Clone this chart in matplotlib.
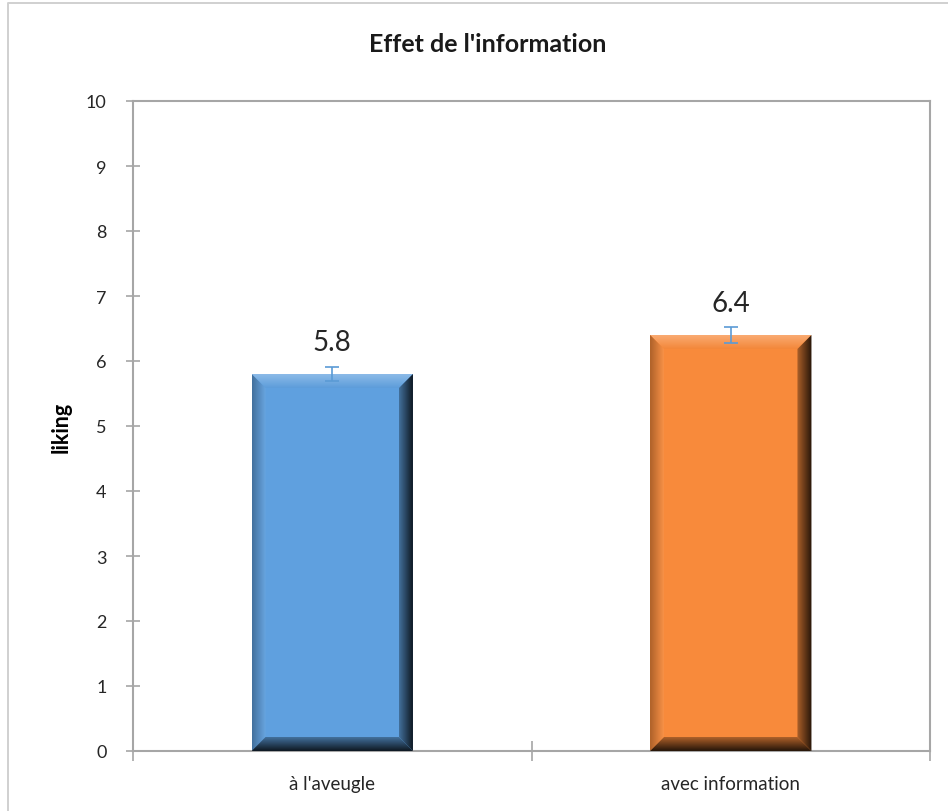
import numpy as np
import matplotlib
matplotlib.use('Agg')
import matplotlib.pyplot as plt
from matplotlib.patches import Polygon
from matplotlib.lines import Line2D

# liking scores per condition
conditions = ["à l'aveugle", "avec information"]
liking = [5.8, 6.4]
liking_err = [0.11, 0.12]
bar_colors = ['#5fa0df', '#f88a3b']

plt.rcParams['font.family'] = ['Lato', 'DejaVu Sans']

fig = plt.figure(figsize=(9.48, 8.12), dpi=100)
ax = fig.add_axes([133 / 948, 60 / 812, 797 / 948, 650 / 812])

# chart border (left and top edges)
fig.lines.append(Line2D([8 / 948, 8 / 948, 1.0], [0.0, 1 - 4 / 812, 1 - 4 / 812],
                        transform=fig.transFigure, color='#d0d0d0', linewidth=1.4))

x = np.arange(len(conditions))
width = 0.405
bars = ax.bar(x, liking, width=width, color=bar_colors, zorder=2)

ax.set_xlim(-0.5, 1.5)
ax.set_ylim(0, 10)


def shade(c, f):
    c = np.array(matplotlib.colors.to_rgb(c))
    if f >= 0:
        return tuple(c + (1 - c) * f)
    return tuple(c * (1 + f))


def grad_fill(poly, c0, c1, ext, vertical):
    # linear gradient clipped to a polygon
    t = np.linspace(0, 1, 64)
    cols = np.array([np.array(c0) * (1 - s) + np.array(c1) * s for s in t])
    img = cols[:, None, :] if vertical else cols[None, :, :]
    im = ax.imshow(img, extent=ext, aspect='auto', origin='lower', zorder=3, interpolation='bilinear')
    patch = Polygon(poly, closed=True, transform=ax.transData, facecolor='none', edgecolor='none')
    ax.add_patch(patch)
    im.set_clip_path(patch)


# bevel size in pixels, converted to data units
bev = 14
px_x = 2.0 / 797
px_y = 10.0 / 650
bx, by = bev * px_x, bev * px_y

for rect, col in zip(bars, bar_colors):
    x0, y0 = rect.get_x(), rect.get_y()
    x1, y1 = x0 + rect.get_width(), y0 + rect.get_height()
    # top edge: light to base
    grad_fill([(x0, y1), (x1, y1), (x1 - bx, y1 - by), (x0 + bx, y1 - by)],
              shade(col, -0.02), shade(col, 0.28), (x0, x1, y1 - by, y1), True)
    # left edge
    grad_fill([(x0, y0), (x0 + bx, y0 + by), (x0 + bx, y1 - by), (x0, y1)],
              shade(col, -0.3), shade(col, 0.06), (x0, x0 + bx, y0, y1), False)
    # right edge: dark
    grad_fill([(x1, y0), (x1, y1), (x1 - bx, y1 - by), (x1 - bx, y0 + by)],
              shade(col, -0.3), shade(col, -0.85), (x1 - bx, x1, y0, y1), False)
    # bottom edge: dark
    grad_fill([(x0, y0), (x1, y0), (x1 - bx, y0 + by), (x0 + bx, y0 + by)],
              shade(col, -0.85), shade(col, -0.3), (x0, x1, y0, y0 + by), True)

ax.errorbar(x, liking, yerr=liking_err, fmt='none', ecolor='#5b9bd5', elinewidth=1.2,
            capsize=5, capthick=1.2, zorder=4)

for xi, v in zip(x, liking):
    ax.annotate(f'{v:.1f}', (xi, v), xytext=(0, 14), textcoords='offset points',
                ha='center', va='bottom', fontsize=20, color='#262626')

ax.set_xticks([-0.5, 0.5, 1.5])
ax.set_xticklabels([])
ax.set_xticks(x, minor=True)
ax.set_xticklabels(conditions, minor=True)
ax.tick_params(axis='x', which='major', direction='inout', length=14, color='#a6a6a6', width=1.2)
ax.tick_params(axis='x', which='minor', length=0, pad=17, labelsize=13.5, labelcolor='#262626')
ax.set_yticks(range(0, 11))
ax.tick_params(axis='y', direction='inout', length=10, color='#a6a6a6', width=1.2,
               pad=14, labelsize=13, labelcolor='#262626')

for s in ax.spines.values():
    s.set_color('#a6a6a6')
    s.set_linewidth(1.5)

ax.set_ylabel('liking', fontsize=15.5, fontweight='bold', labelpad=10)
fig.text(488 / 948, 1 - 45 / 812, "Effet de l'information", ha='center', va='center',
         fontsize=18, fontweight='bold', color='#1a1a1a')

fig.savefig('out.png', dpi=100)
